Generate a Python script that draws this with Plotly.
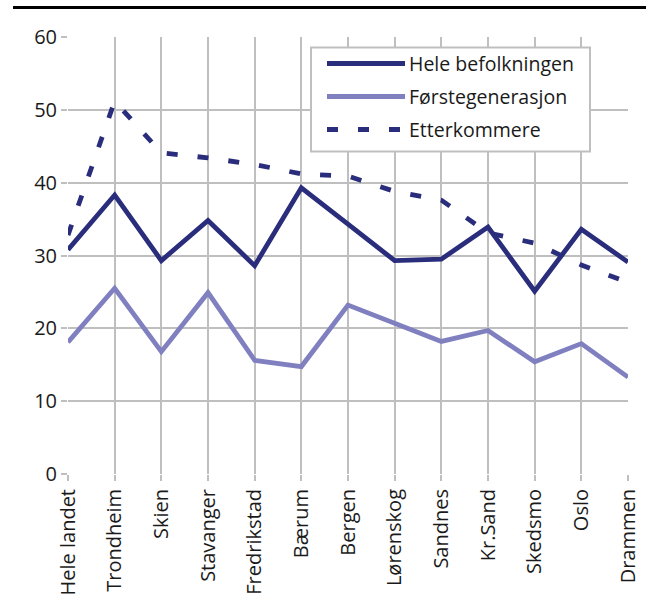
import plotly.graph_objects as go

categories = ["Hele landet", "Trondheim", "Skien", "Stavanger", "Fredrikstad", "Bærum",
              "Bergen", "Lørenskog", "Sandnes", "Kr.Sand", "Skedsmo", "Oslo", "Drammen"]
series_names = ["Hele befolkningen", "Førstegenerasjon", "Etterkommere"]
hele = [30.8, 38.3, 29.3, 34.8, 28.6, 39.3, 34.3, 29.3, 29.5, 33.9, 25.1, 33.6, 29.1]
forste = [18.1, 25.5, 16.8, 24.9, 15.6, 14.75, 23.2, 20.7, 18.2, 19.7, 15.4, 17.9, 13.3]
etter = [32.8, 51.2, 44.1, 43.4, 42.5, 41.2, 40.9, 38.8, 37.6, 33.1, 31.7, 28.7, 26.3]
y_ticks = [0, 10, 20, 30, 40, 50, 60]

DARK = "#2a2d7c"
LIGHT = "#8080c0"
GRID = "#bfbfbf"
FONT = "Open Sans"
DASH = "11px,20px"

series = [hele, forste, etter]
styles = [dict(color=DARK, width=4.8), dict(color=LIGHT, width=4.8),
          dict(color=DARK, width=4.8, dash=DASH)]

fig = go.Figure()
for name, vals, st in zip(series_names, series, styles):
    fig.add_trace(go.Scatter(x=categories, y=vals, mode="lines", name=name,
                             line=st, showlegend=False, cliponaxis=True))

W, H = 659, 615
L, R, T, B = 68, 31, 37, 141
pw, ph = W - L - R, H - T - B

def px(x):
    return (x - L) / pw

def py(y):
    return (H - B - y) / ph

shapes = []
annotations = []
# top rule
shapes.append(dict(type="line", xref="paper", yref="paper", x0=px(13), x1=px(646),
                   y0=py(7.5), y1=py(7.5), line=dict(color="black", width=3)))
# legend box
shapes.append(dict(type="rect", xref="paper", yref="paper", x0=px(311), x1=px(590),
                   y0=py(47.5), y1=py(151.5), line=dict(color=GRID, width=2),
                   fillcolor="white", layer="above"))
rows = [63.5, 96.5, 129.5]
for name, st, ry in zip(series_names, styles, rows):
    shapes.append(dict(type="line", xref="paper", yref="paper", x0=px(327), x1=px(405),
                       y0=py(ry), y1=py(ry), line=st, layer="above"))
    annotations.append(dict(xref="paper", yref="paper", x=px(407), y=py(ry),
                            text=name, showarrow=False, xanchor="left", yanchor="middle",
                            font=dict(family=FONT, size=19.5, color="#1a1a1a")))

fig.update_layout(
    width=W, height=H,
    margin=dict(l=L, r=R, t=T, b=B, pad=0),
    paper_bgcolor="white", plot_bgcolor="white",
    shapes=shapes, annotations=annotations,
    font=dict(family=FONT, size=20, color="#1a1a1a"),
    xaxis=dict(type="category", range=[0, len(categories) - 1], showgrid=True,
               gridcolor=GRID, gridwidth=2, tickangle=-90, ticks="outside",
               ticklen=6, tickwidth=2, tickcolor=GRID, showline=False,
               zeroline=False, tickfont=dict(family=FONT, size=20)),
    yaxis=dict(range=[0, 60], tickvals=y_ticks, showgrid=True, gridcolor=GRID,
               gridwidth=2, ticks="outside", ticklen=6, tickwidth=2, tickcolor=GRID,
               showline=False, zeroline=False, tickfont=dict(family=FONT, size=20)),
)
fig.write_html("out.html", config={"displayModeBar": False},
               post_script="document.body.style.margin='0';")
